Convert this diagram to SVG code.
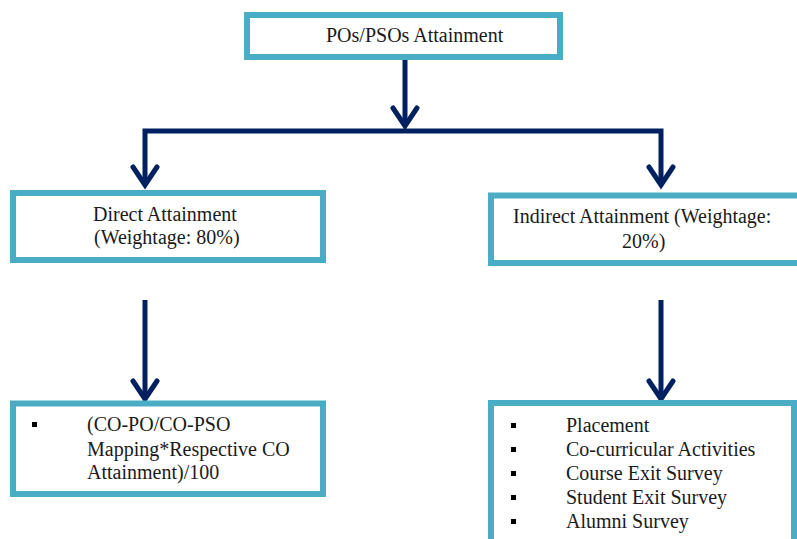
<svg xmlns="http://www.w3.org/2000/svg" width="797" height="539" viewBox="0 0 797 539">
  <style>
    .box { fill: #ffffff; stroke: #4BACC6; stroke-width: 6; }
    .lbl { font-family: "Liberation Serif", "Times New Roman", serif; font-size: 20px; fill: #1a1a1a; }
    .wire { fill: none; stroke: #002060; stroke-width: 5; stroke-linecap: butt; stroke-linejoin: miter; }
    .head { fill: none; stroke: #002060; stroke-width: 5; stroke-linecap: round; stroke-linejoin: miter; }
    .dot { fill: #000000; }
  </style>
  <defs>
    <!-- open chevron arrowhead, tip at origin -->
    <path id="chev" class="head" d="M -12 -21 L 0 -3 L 12 -21"/>
  </defs>

  <rect width="797" height="539" fill="#ffffff"/>

  <g id="connectors">
    <line class="wire" x1="405" y1="60" x2="405" y2="126"/>
    <use href="#chev" x="405" y="129"/>
    <polyline class="wire" points="145,184 145,131 661,131 661,184"/>
    <use href="#chev" x="145" y="188"/>
    <use href="#chev" x="661" y="188"/>
    <line class="wire" x1="145" y1="300" x2="145" y2="398"/>
    <use href="#chev" x="145" y="402"/>
    <line class="wire" x1="661" y1="300" x2="661" y2="398"/>
    <use href="#chev" x="661" y="402"/>
  </g>

  <g id="pos-psos">
    <rect class="box" x="247" y="15" width="313" height="42"/>
    <text class="lbl" x="326" y="42">POs/PSOs Attainment</text>
  </g>

  <g id="direct">
    <rect class="box" x="13" y="193" width="310" height="67"/>
    <text class="lbl" x="93" y="221">Direct Attainment</text>
    <text class="lbl" x="94" y="244">(Weightage: 80%)</text>
  </g>

  <g id="indirect">
    <rect class="box" x="491" y="195.5" width="320" height="67.5"/>
    <text class="lbl" x="513" y="223">Indirect Attainment (Weightage:</text>
    <text class="lbl" x="622" y="248">20%)</text>
  </g>

  <g id="direct-formula">
    <rect class="box" x="13" y="403.5" width="310" height="90.5"/>
    <rect class="dot" x="32" y="422" width="5" height="5"/>
    <text class="lbl" x="87" y="431">(CO-PO/CO-PSO</text>
    <text class="lbl" x="87" y="456">Mapping*Respective CO</text>
    <text class="lbl" x="87" y="479">Attainment)/100</text>
  </g>

  <g id="indirect-sources">
    <rect class="box" x="491" y="403" width="303" height="160"/>
    <rect class="dot" x="511" y="423" width="5" height="5"/>
    <rect class="dot" x="511" y="447" width="5" height="5"/>
    <rect class="dot" x="511" y="471" width="5" height="5"/>
    <rect class="dot" x="511" y="495" width="5" height="5"/>
    <rect class="dot" x="511" y="519" width="5" height="5"/>
    <text class="lbl" x="566" y="432">Placement</text>
    <text class="lbl" x="566" y="456">Co-curricular Activities</text>
    <text class="lbl" x="566" y="480">Course Exit Survey</text>
    <text class="lbl" x="566" y="504">Student Exit Survey</text>
    <text class="lbl" x="566" y="528">Alumni Survey</text>
  </g>
</svg>
